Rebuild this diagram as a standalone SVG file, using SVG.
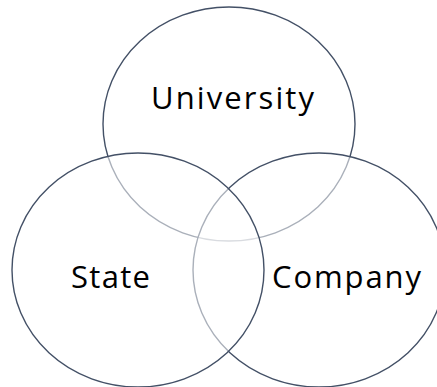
<svg xmlns="http://www.w3.org/2000/svg" width="437" height="387" viewBox="0 0 437 387">
<style>
.c{fill:#ffffff;fill-opacity:0.55;stroke:#435066;stroke-width:1.4}
.t{font-family:"Open Sans","Noto Sans",sans-serif;font-size:31px;fill:#000}
</style>
<rect width="437" height="387" fill="#fff"/>
<g id="university"><ellipse class="c" cx="229" cy="124" rx="126" ry="117"/></g>
<g id="company"><ellipse class="c" cx="319" cy="270" rx="126" ry="117"/></g>
<g id="state"><ellipse class="c" cx="138" cy="270" rx="126" ry="117"/></g>
<g id="connectors"></g>
<g id="labels">
<text class="t" x="151" y="109" textLength="163" lengthAdjust="spacing">University</text>
<text class="t" x="71" y="288" textLength="79" lengthAdjust="spacing">State</text>
<text class="t" x="272" y="288" textLength="149" lengthAdjust="spacing">Company</text>
</g>
</svg>
